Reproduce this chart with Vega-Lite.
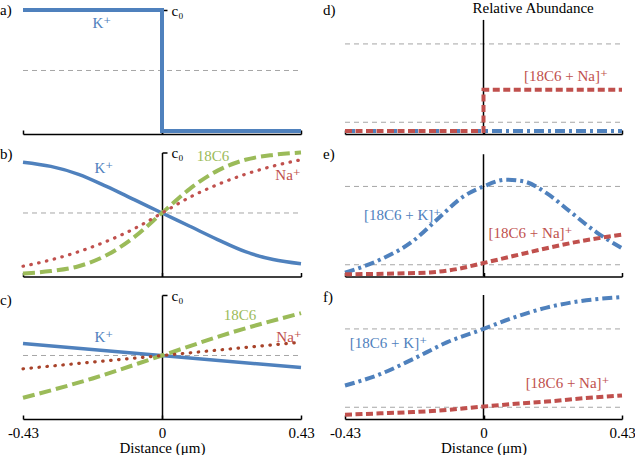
{
"$schema":"https://vega.github.io/schema/vega-lite/v6.json",
"padding":{"left":0,"top":0,"right":0,"bottom":0},
"config":{"view":{"stroke":null},"font":"'Liberation Serif', 'Times New Roman', 'DejaVu Serif', serif","text":{"font":"'Liberation Serif', 'Times New Roman', 'DejaVu Serif', serif"},
"axis":{"domainColor":"black","tickColor":"black","labelColor":"black","titleColor":"black","labelFont":"'Liberation Serif', 'Times New Roman', 'DejaVu Serif', serif","titleFont":"'Liberation Serif', 'Times New Roman', 'DejaVu Serif', serif","labelFontSize":15,"titleFontSize":15,"titleFontWeight":"normal","grid":false,"domainWidth":1.5,"tickWidth":1.5}},
"datasets":{
"curves":[
{"p":"a","s":"K","x":-0.43,"y":1},{"p":"a","s":"K","x":0,"y":1},{"p":"a","s":"K","x":0,"y":0},{"p":"a","s":"K","x":0.43,"y":0},
{"p":"b","s":"K","x":-0.43,"y":0.92},{"p":"b","s":"K","x":-0.344,"y":0.885},{"p":"b","s":"K","x":-0.258,"y":0.82},{"p":"b","s":"K","x":-0.172,"y":0.72},{"p":"b","s":"K","x":-0.086,"y":0.61},{"p":"b","s":"K","x":0,"y":0.5},{"p":"b","s":"K","x":0.086,"y":0.39},{"p":"b","s":"K","x":0.172,"y":0.28},{"p":"b","s":"K","x":0.258,"y":0.18},{"p":"b","s":"K","x":0.344,"y":0.115},{"p":"b","s":"K","x":0.43,"y":0.08},
{"p":"b","s":"C","x":-0.43,"y":0.0},{"p":"b","s":"C","x":-0.344,"y":0.02},{"p":"b","s":"C","x":-0.258,"y":0.06},{"p":"b","s":"C","x":-0.172,"y":0.15},{"p":"b","s":"C","x":-0.086,"y":0.30},{"p":"b","s":"C","x":0,"y":0.5},{"p":"b","s":"C","x":0.086,"y":0.70},{"p":"b","s":"C","x":0.172,"y":0.85},{"p":"b","s":"C","x":0.258,"y":0.94},{"p":"b","s":"C","x":0.344,"y":0.98},{"p":"b","s":"C","x":0.43,"y":1.0},
{"p":"b","s":"Na","x":-0.43,"y":0.06},{"p":"b","s":"Na","x":-0.344,"y":0.112},{"p":"b","s":"Na","x":-0.258,"y":0.18},{"p":"b","s":"Na","x":-0.172,"y":0.265},{"p":"b","s":"Na","x":-0.086,"y":0.37},{"p":"b","s":"Na","x":0,"y":0.5},{"p":"b","s":"Na","x":0.086,"y":0.63},{"p":"b","s":"Na","x":0.172,"y":0.735},{"p":"b","s":"Na","x":0.258,"y":0.82},{"p":"b","s":"Na","x":0.344,"y":0.888},{"p":"b","s":"Na","x":0.43,"y":0.94},
{"p":"c","s":"K","x":-0.43,"y":0.6},{"p":"c","s":"K","x":0.43,"y":0.4},
{"p":"c","s":"C","x":-0.43,"y":0.15},{"p":"c","s":"C","x":-0.215,"y":0.31},{"p":"c","s":"C","x":0,"y":0.5},{"p":"c","s":"C","x":0.215,"y":0.69},{"p":"c","s":"C","x":0.43,"y":0.85},
{"p":"c","s":"Na","x":-0.43,"y":0.39},{"p":"c","s":"Na","x":0.43,"y":0.61},
{"p":"d","s":"KC","x":-0.43,"y":0},{"p":"d","s":"KC","x":0.43,"y":0},
{"p":"d","s":"NaC","x":-0.43,"y":0},{"p":"d","s":"NaC","x":0,"y":0},{"p":"d","s":"NaC","x":0,"y":0.474},{"p":"d","s":"NaC","x":0.43,"y":0.474},
{"p":"e","s":"KC","x":-0.43,"y":0.01},{"p":"e","s":"KC","x":-0.32,"y":0.16},{"p":"e","s":"KC","x":-0.22,"y":0.37},{"p":"e","s":"KC","x":-0.144,"y":0.62},{"p":"e","s":"KC","x":-0.064,"y":0.88},{"p":"e","s":"KC","x":0,"y":1.0},{"p":"e","s":"KC","x":0.07,"y":1.078},{"p":"e","s":"KC","x":0.123,"y":1.06},{"p":"e","s":"KC","x":0.197,"y":0.92},{"p":"e","s":"KC","x":0.269,"y":0.71},{"p":"e","s":"KC","x":0.352,"y":0.47},{"p":"e","s":"KC","x":0.43,"y":0.29},
{"p":"e","s":"NaC","x":-0.43,"y":-0.01},{"p":"e","s":"NaC","x":-0.27,"y":0.0},{"p":"e","s":"NaC","x":-0.166,"y":0.012},{"p":"e","s":"NaC","x":-0.083,"y":0.05},{"p":"e","s":"NaC","x":0,"y":0.12},{"p":"e","s":"NaC","x":0.092,"y":0.2},{"p":"e","s":"NaC","x":0.196,"y":0.29},{"p":"e","s":"NaC","x":0.3,"y":0.37},{"p":"e","s":"NaC","x":0.43,"y":0.445},
{"p":"f","s":"KC","x":-0.43,"y":0.35},{"p":"f","s":"KC","x":-0.321,"y":0.48},{"p":"f","s":"KC","x":-0.218,"y":0.655},{"p":"f","s":"KC","x":-0.114,"y":0.845},{"p":"f","s":"KC","x":0,"y":1.0},{"p":"f","s":"KC","x":0.093,"y":1.13},{"p":"f","s":"KC","x":0.196,"y":1.245},{"p":"f","s":"KC","x":0.3,"y":1.32},{"p":"f","s":"KC","x":0.43,"y":1.365},
{"p":"f","s":"NaC","x":-0.43,"y":0.015},{"p":"f","s":"NaC","x":-0.32,"y":0.03},{"p":"f","s":"NaC","x":-0.218,"y":0.045},{"p":"f","s":"NaC","x":-0.11,"y":0.07},{"p":"f","s":"NaC","x":0,"y":0.108},{"p":"f","s":"NaC","x":0.1,"y":0.14},{"p":"f","s":"NaC","x":0.196,"y":0.165},{"p":"f","s":"NaC","x":0.3,"y":0.2},{"p":"f","s":"NaC","x":0.43,"y":0.235}
],
"refs":[{"p":"a","x":-0.43,"x2":0.43,"y":0.5},{"p":"b","x":-0.43,"x2":0.43,"y":0.5},{"p":"c","x":-0.43,"x2":0.43,"y":0.5},{"p":"d","x":-0.43,"x2":0.43,"y":0.1},{"p":"d","x":-0.43,"x2":0.43,"y":1},{"p":"e","x":-0.43,"x2":0.43,"y":0.1},{"p":"e","x":-0.43,"x2":0.43,"y":1},{"p":"f","x":-0.43,"x2":0.43,"y":0.1},{"p":"f","x":-0.43,"x2":0.43,"y":1}],
"vlines":[{"p":"d","x":0,"y":-0.035,"y2":1.276},{"p":"e","x":0,"y":-0.035,"y2":1.37},{"p":"f","x":0,"y":-0.035,"y2":1.39}],
"labels":[
{"p":"a","s":"K","t":"K⁺","x":-0.186,"y":0.89},
{"p":"b","s":"K","t":"K⁺","x":-0.18,"y":0.868},{"p":"b","s":"C","t":"18C6","x":0.158,"y":0.967},{"p":"b","s":"Na","t":"Na⁺","x":0.39,"y":0.814},
{"p":"c","s":"K","t":"K⁺","x":-0.18,"y":0.655},{"p":"c","s":"C","t":"18C6","x":0.241,"y":0.835},{"p":"c","s":"Na","t":"Na⁺","x":0.393,"y":0.653},
{"p":"d","s":"NaC","t":"[18C6 + Na]⁺","x":0.256,"y":0.63},
{"p":"e","s":"KC","t":"[18C6 + K]⁺","x":-0.251,"y":0.667},{"p":"e","s":"NaC","t":"[18C6 + Na]⁺","x":0.146,"y":0.463},
{"p":"f","s":"KC","t":"[18C6 + K]⁺","x":-0.295,"y":0.837},{"p":"f","s":"NaC","t":"[18C6 + Na]⁺","x":0.261,"y":0.378}
],
"letters":[{"p":"a","t":"a)","x":-0.501,"y":1.0},{"p":"b","t":"b)","x":-0.501,"y":0.99},{"p":"c","t":"c)","x":-0.501,"y":0.96},{"p":"d","t":"d)","x":-0.498,"y":1.39},{"p":"e","t":"e)","x":-0.498,"y":1.373},{"p":"f","t":"f)","x":-0.498,"y":1.37}],
"titles":[{"p":"d","t":"Relative Abundance","x":0.154,"y":1.414}]
},
"columns":2,
"spacing":{"row":18.5,"column":44},
"bounds":"flush",
"concat":[
{"width":278,"height":124,
 "encoding":{"x":{"field":"x","type":"quantitative","scale":{"domain":[-0.43,0.43],"nice":false,"zero":false},"axis":{"values":[-0.43,0,0.43],"labels":false,"title":null,"tickSize":-4}},"y":{"field":"y","type":"quantitative","scale":{"domain":[-0.025,1],"nice":false,"zero":false},"axis":{"orient":"right","offset":-139,"values":[1],"labelExpr":"'c₀'","title":null,"tickSize":5,"labelPadding":4}}},
 "layer":[
 {"data":{"name":"refs"},"transform":[{"filter":"datum.p==='a'"}],"mark":{"type":"rule","stroke":"#A6A6A6","strokeWidth":1,"strokeDash":[5,4]},"encoding":{"x2":{"field":"x2"}}},
 {"data":{"name":"curves"},"transform":[{"filter":"datum.p==='a' && datum.s==='K'"}],"mark":{"type":"line","strokeWidth":4,"strokeJoin":"miter","color":"#4F81BD"},"encoding":{"order":{"value":null}}},
 {"data":{"name":"labels"},"transform":[{"filter":"datum.p==='a'"}],"mark":{"type":"text","fontSize":15,"align":"center","baseline":"middle"},"encoding":{"text":{"field":"t"},"color":{"field":"s","type":"nominal","scale":{"domain":["K","C","Na","KC","NaC"],"range":["#4F81BD","#9BBB59","#C0504D","#4F81BD","#C0504D"]},"legend":null}}},
 {"data":{"name":"letters"},"transform":[{"filter":"datum.p==='a'"}],"mark":{"type":"text","fontSize":15,"align":"left","baseline":"middle","color":"black"},"encoding":{"text":{"field":"t"}}}
]},
{"width":277,"height":124,
 "encoding":{"x":{"field":"x","type":"quantitative","scale":{"domain":[-0.43,0.43],"nice":false,"zero":false},"axis":{"values":[-0.43,0,0.43],"labels":false,"title":null,"tickSize":-4}},"y":{"field":"y","type":"quantitative","scale":{"domain":[-0.035,1.39],"nice":false,"zero":false},"axis":null}},
 "layer":[
 {"data":{"name":"refs"},"transform":[{"filter":"datum.p==='d'"}],"mark":{"type":"rule","stroke":"#A6A6A6","strokeWidth":1,"strokeDash":[5,4]},"encoding":{"x2":{"field":"x2"}}},
 {"data":{"name":"vlines"},"transform":[{"filter":"datum.p==='d'"}],"mark":{"type":"rule","color":"black","strokeWidth":1.5},"encoding":{"y2":{"field":"y2"}}},
 {"data":{"name":"curves"},"transform":[{"filter":"datum.p==='d' && datum.s==='KC'"}],"mark":{"type":"line","strokeWidth":4,"strokeDash":[10,4,3,4],"color":"#4F81BD"},"encoding":{"order":{"value":null}}},
 {"data":{"name":"curves"},"transform":[{"filter":"datum.p==='d' && datum.s==='NaC'"}],"mark":{"type":"line","strokeWidth":4,"strokeDash":[7,3.5],"color":"#C0504D"},"encoding":{"order":{"value":null}}},
 {"data":{"name":"labels"},"transform":[{"filter":"datum.p==='d'"}],"mark":{"type":"text","fontSize":15,"align":"center","baseline":"middle"},"encoding":{"text":{"field":"t"},"color":{"field":"s","type":"nominal","scale":{"domain":["K","C","Na","KC","NaC"],"range":["#4F81BD","#9BBB59","#C0504D","#4F81BD","#C0504D"]},"legend":null}}},
 {"data":{"name":"letters"},"transform":[{"filter":"datum.p==='d'"}],"mark":{"type":"text","fontSize":15,"align":"left","baseline":"middle","color":"black"},"encoding":{"text":{"field":"t"}}},
 {"data":{"name":"titles"},"mark":{"type":"text","fontSize":15,"align":"center","baseline":"middle","color":"black"},"encoding":{"text":{"field":"t"}}}
]},
{"width":278,"height":124,
 "encoding":{"x":{"field":"x","type":"quantitative","scale":{"domain":[-0.43,0.43],"nice":false,"zero":false},"axis":{"values":[-0.43,0,0.43],"labels":false,"title":null,"tickSize":-4}},"y":{"field":"y","type":"quantitative","scale":{"domain":[-0.025,1],"nice":false,"zero":false},"axis":{"orient":"right","offset":-139,"values":[1],"labelExpr":"'c₀'","title":null,"tickSize":5,"labelPadding":4}}},
 "layer":[
 {"data":{"name":"refs"},"transform":[{"filter":"datum.p==='b'"}],"mark":{"type":"rule","stroke":"#A6A6A6","strokeWidth":1,"strokeDash":[5,4]},"encoding":{"x2":{"field":"x2"}}},
 {"data":{"name":"curves"},"transform":[{"filter":"datum.p==='b' && datum.s==='K'"}],"mark":{"type":"line","strokeWidth":3.5,"interpolate":"monotone","color":"#4F81BD"},"encoding":{"order":{"value":null}}},
 {"data":{"name":"curves"},"transform":[{"filter":"datum.p==='b' && datum.s==='C'"}],"mark":{"type":"line","strokeWidth":4,"strokeDash":[12,5],"interpolate":"monotone","color":"#9BBB59"},"encoding":{"order":{"value":null}}},
 {"data":{"name":"curves"},"transform":[{"filter":"datum.p==='b' && datum.s==='Na'"}],"mark":{"type":"line","strokeWidth":3.2,"strokeDash":[0.5,7.5],"strokeCap":"round","interpolate":"monotone","color":"#C0504D"},"encoding":{"order":{"value":null}}},
 {"data":{"name":"labels"},"transform":[{"filter":"datum.p==='b'"}],"mark":{"type":"text","fontSize":15,"align":"center","baseline":"middle"},"encoding":{"text":{"field":"t"},"color":{"field":"s","type":"nominal","scale":{"domain":["K","C","Na","KC","NaC"],"range":["#4F81BD","#9BBB59","#C0504D","#4F81BD","#C0504D"]},"legend":null}}},
 {"data":{"name":"letters"},"transform":[{"filter":"datum.p==='b'"}],"mark":{"type":"text","fontSize":15,"align":"left","baseline":"middle","color":"black"},"encoding":{"text":{"field":"t"}}}
]},
{"width":277,"height":124,
 "encoding":{"x":{"field":"x","type":"quantitative","scale":{"domain":[-0.43,0.43],"nice":false,"zero":false},"axis":{"values":[-0.43,0,0.43],"labels":false,"title":null,"tickSize":-4}},"y":{"field":"y","type":"quantitative","scale":{"domain":[-0.035,1.39],"nice":false,"zero":false},"axis":null}},
 "layer":[
 {"data":{"name":"refs"},"transform":[{"filter":"datum.p==='e'"}],"mark":{"type":"rule","stroke":"#A6A6A6","strokeWidth":1,"strokeDash":[5,4]},"encoding":{"x2":{"field":"x2"}}},
 {"data":{"name":"vlines"},"transform":[{"filter":"datum.p==='e'"}],"mark":{"type":"rule","color":"black","strokeWidth":1.5},"encoding":{"y2":{"field":"y2"}}},
 {"data":{"name":"curves"},"transform":[{"filter":"datum.p==='e' && datum.s==='KC'"}],"mark":{"type":"line","strokeWidth":4,"strokeDash":[10,4,3,4],"interpolate":"monotone","color":"#4F81BD"},"encoding":{"order":{"value":null}}},
 {"data":{"name":"curves"},"transform":[{"filter":"datum.p==='e' && datum.s==='NaC'"}],"mark":{"type":"line","strokeWidth":4,"strokeDash":[7,3.5],"interpolate":"monotone","color":"#C0504D"},"encoding":{"order":{"value":null}}},
 {"data":{"name":"labels"},"transform":[{"filter":"datum.p==='e'"}],"mark":{"type":"text","fontSize":15,"align":"center","baseline":"middle"},"encoding":{"text":{"field":"t"},"color":{"field":"s","type":"nominal","scale":{"domain":["K","C","Na","KC","NaC"],"range":["#4F81BD","#9BBB59","#C0504D","#4F81BD","#C0504D"]},"legend":null}}},
 {"data":{"name":"letters"},"transform":[{"filter":"datum.p==='e'"}],"mark":{"type":"text","fontSize":15,"align":"left","baseline":"middle","color":"black"},"encoding":{"text":{"field":"t"}}}
]},
{"width":278,"height":124,
 "encoding":{"x":{"field":"x","type":"quantitative","scale":{"domain":[-0.43,0.43],"nice":false,"zero":false},"axis":{"values":[-0.43,0,0.43],"labelExpr":"datum.value < 0 ? '-0.43' : (datum.value > 0 ? '0.43' : '0')","labelFlush":false,"tickSize":-4,"labelPadding":10,"title":"Distance (μm)","titlePadding":0}},"y":{"field":"y","type":"quantitative","scale":{"domain":[-0.025,1],"nice":false,"zero":false},"axis":{"orient":"right","offset":-139,"values":[1],"labelExpr":"'c₀'","title":null,"tickSize":5,"labelPadding":4}}},
 "layer":[
 {"data":{"name":"refs"},"transform":[{"filter":"datum.p==='c'"}],"mark":{"type":"rule","stroke":"#A6A6A6","strokeWidth":1,"strokeDash":[5,4]},"encoding":{"x2":{"field":"x2"}}},
 {"data":{"name":"curves"},"transform":[{"filter":"datum.p==='c' && datum.s==='K'"}],"mark":{"type":"line","strokeWidth":3.5,"color":"#4F81BD"},"encoding":{"order":{"value":null}}},
 {"data":{"name":"curves"},"transform":[{"filter":"datum.p==='c' && datum.s==='C'"}],"mark":{"type":"line","strokeWidth":4,"strokeDash":[12,5],"interpolate":"monotone","color":"#9BBB59"},"encoding":{"order":{"value":null}}},
 {"data":{"name":"curves"},"transform":[{"filter":"datum.p==='c' && datum.s==='Na'"}],"mark":{"type":"line","strokeWidth":3.2,"strokeDash":[0.5,7.5],"strokeCap":"round","color":"#A8432A"},"encoding":{"order":{"value":null}}},
 {"data":{"name":"labels"},"transform":[{"filter":"datum.p==='c'"}],"mark":{"type":"text","fontSize":15,"align":"center","baseline":"middle"},"encoding":{"text":{"field":"t"},"color":{"field":"s","type":"nominal","scale":{"domain":["K","C","Na","KC","NaC"],"range":["#4F81BD","#9BBB59","#C0504D","#4F81BD","#C0504D"]},"legend":null}}},
 {"data":{"name":"letters"},"transform":[{"filter":"datum.p==='c'"}],"mark":{"type":"text","fontSize":15,"align":"left","baseline":"middle","color":"black"},"encoding":{"text":{"field":"t"}}}
]},
{"width":277,"height":124,
 "encoding":{"x":{"field":"x","type":"quantitative","scale":{"domain":[-0.43,0.43],"nice":false,"zero":false},"axis":{"values":[-0.43,0,0.43],"labelExpr":"datum.value < 0 ? '-0.43' : (datum.value > 0 ? '0.43' : '0')","labelFlush":false,"tickSize":-4,"labelPadding":10,"title":"Distance (μm)","titlePadding":0}},"y":{"field":"y","type":"quantitative","scale":{"domain":[-0.035,1.39],"nice":false,"zero":false},"axis":null}},
 "layer":[
 {"data":{"name":"refs"},"transform":[{"filter":"datum.p==='f'"}],"mark":{"type":"rule","stroke":"#A6A6A6","strokeWidth":1,"strokeDash":[5,4]},"encoding":{"x2":{"field":"x2"}}},
 {"data":{"name":"vlines"},"transform":[{"filter":"datum.p==='f'"}],"mark":{"type":"rule","color":"black","strokeWidth":1.5},"encoding":{"y2":{"field":"y2"}}},
 {"data":{"name":"curves"},"transform":[{"filter":"datum.p==='f' && datum.s==='KC'"}],"mark":{"type":"line","strokeWidth":4,"strokeDash":[10,4,3,4],"interpolate":"monotone","color":"#4F81BD"},"encoding":{"order":{"value":null}}},
 {"data":{"name":"curves"},"transform":[{"filter":"datum.p==='f' && datum.s==='NaC'"}],"mark":{"type":"line","strokeWidth":4,"strokeDash":[7,3.5],"interpolate":"monotone","color":"#C0504D"},"encoding":{"order":{"value":null}}},
 {"data":{"name":"labels"},"transform":[{"filter":"datum.p==='f'"}],"mark":{"type":"text","fontSize":15,"align":"center","baseline":"middle"},"encoding":{"text":{"field":"t"},"color":{"field":"s","type":"nominal","scale":{"domain":["K","C","Na","KC","NaC"],"range":["#4F81BD","#9BBB59","#C0504D","#4F81BD","#C0504D"]},"legend":null}}},
 {"data":{"name":"letters"},"transform":[{"filter":"datum.p==='f'"}],"mark":{"type":"text","fontSize":15,"align":"left","baseline":"middle","color":"black"},"encoding":{"text":{"field":"t"}}}
]}
]
}
